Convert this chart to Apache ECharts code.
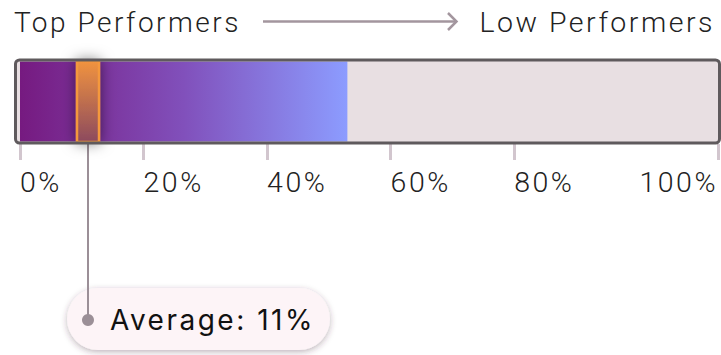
<!DOCTYPE html>
<html>
<head>
<meta charset="utf-8">
<script src="https://cdn.jsdelivr.net/npm/echarts@6/dist/echarts.min.js"></script>
<style>
  html, body { margin: 0; padding: 0; background: #ffffff; }
  #chart { width: 721px; height: 355px; }
  #chart text { letter-spacing: 2.5px; }
</style>
</head>
<body>
<div id="chart"></div>
<script>
// Share of the cohort, in percent
const categories = ['Cohort'];
const barValues = [53];
const averageValues = [11];

// Axis ticks: the last tick sits at the end of the track
const AXIS_MAX = 113;
const tickValues = [0, 20, 40, 60, 80, 113];
const tickLabels = ['0%', '20%', '40%', '60%', '80%', '100%'];

const LIGHT_FONT = 'Roboto, Inter, "Noto Sans", sans-serif';
const LABEL_FONT = 'Inter, "Noto Sans", sans-serif';

const chart = echarts.init(document.getElementById('chart'), null, { renderer: 'svg' });

const option = {
  animation: false,
  grid: { left: 20, right: 1, top: 61, height: 81, containLabel: false },
  xAxis: {
    type: 'value',
    min: 0,
    max: AXIS_MAX,
    offset: 2,
    splitLine: { show: false },
    axisLine: { show: false },
    axisTick: {
      show: true,
      customValues: tickValues,
      length: 16,
      lineStyle: { color: '#d2c6ce', width: 3 }
    },
    axisLabel: {
      show: true,
      customValues: tickValues,
      formatter: (v) => tickLabels[tickValues.indexOf(v)],
      align: 'left',
      alignMaxLabel: 'right',
      verticalAlign: 'middle',
      margin: 38,
      color: '#222222',
      fontFamily: LIGHT_FONT,
      fontWeight: 300,
      fontSize: 28.5
    }
  },
  yAxis: {
    type: 'category',
    data: categories,
    show: false
  },
  graphic: [
    {
      type: 'rect', z: 0, silent: true,
      shape: { x: 16, y: 61, width: 703, height: 81 },
      style: { fill: '#e8dfe2' }
    },
    {
      type: 'rect', z: 100, silent: true,
      shape: { x: 15.5, y: 60, width: 704, height: 83, r: 4 },
      style: { fill: 'none', stroke: '#5f5a5d', lineWidth: 3 }
    },
    {
      type: 'text', z: 100,
      style: {
        text: 'Top Performers', x: 14, y: 22,
        verticalAlign: 'middle', align: 'left',
        fill: '#222222', fontFamily: LIGHT_FONT, fontWeight: 300, fontSize: 28
      }
    },
    {
      type: 'text', z: 100,
      style: {
        text: 'Low Performers', x: 715, y: 22,
        verticalAlign: 'middle', align: 'right',
        fill: '#222222', fontFamily: LIGHT_FONT, fontWeight: 300, fontSize: 28.5
      }
    },
    {
      type: 'line', z: 100,
      shape: { x1: 263, y1: 21.5, x2: 456, y2: 21.5 },
      style: { stroke: '#a3969e', lineWidth: 2.5 }
    },
    {
      type: 'polyline', z: 100,
      shape: { points: [[448, 13], [456.5, 21.5], [448, 30]] },
      style: { stroke: '#a3969e', lineWidth: 2.5, fill: 'none' }
    }
  ],
  series: [
    {
      type: 'bar',
      data: barValues,
      barWidth: 80,
      z: 2,
      itemStyle: {
        color: new echarts.graphic.LinearGradient(0, 0, 1, 0, [
          { offset: 0, color: '#761a80' },
          { offset: 0.5, color: '#8150bb' },
          { offset: 1, color: '#8c9cff' }
        ])
      }
    },
    {
      type: 'custom',
      z: 5,
      clip: false,
      data: averageValues.map((v) => [v, 0]),
      encode: { x: 0, y: 1 },
      renderItem: (params, api) => {
        const value = api.value(0);
        const pt = api.coord([value, 0]);
        const cx = Math.round(pt[0]);
        const band = api.size([0, 1])[1];
        const top = pt[1] - band / 2;
        const bottom = pt[1] + band / 2;
        const dotY = bottom + 178;
        const markerW = 22;
        return {
          type: 'group',
          children: [
            {
              type: 'rect',
              shape: { x: cx - 21, y: dotY - 32, width: 263, height: 62, r: 31 },
              style: {
                fill: '#fdf4f7',
                shadowBlur: 6, shadowOffsetY: 2,
                shadowColor: 'rgba(70, 40, 60, 0.35)'
              }
            },
            {
              type: 'line',
              shape: { x1: cx, y1: bottom + 2, x2: cx, y2: dotY },
              style: { stroke: '#9b8f97', lineWidth: 2 }
            },
            {
              type: 'circle',
              shape: { cx: cx, cy: dotY, r: 6 },
              style: { fill: '#9b8f97' }
            },
            {
              type: 'text',
              style: {
                text: 'Average: ' + value + '%',
                x: cx + 22, y: dotY,
                align: 'left', verticalAlign: 'middle',
                fill: '#111111', fontFamily: LABEL_FONT, fontWeight: 400, fontSize: 28
              }
            },
            {
              type: 'rect',
              shape: { x: cx - markerW / 2, y: top, width: markerW, height: band },
              style: {
                fill: new echarts.graphic.LinearGradient(0, 0, 0, 1, [
                  { offset: 0, color: '#f1933f' },
                  { offset: 1, color: '#8c4a5e' }
                ]),
                stroke: '#f4983c',
                lineWidth: 2.5,
                shadowBlur: 14,
                shadowColor: 'rgba(0, 0, 0, 0.5)'
              }
            }
          ]
        };
      }
    }
  ]
};

chart.setOption(option);
</script>
</body>
</html>
